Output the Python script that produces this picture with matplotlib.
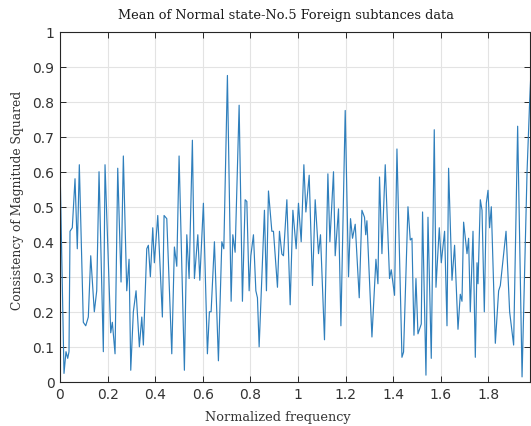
import matplotlib
matplotlib.use("Agg")
import matplotlib.pyplot as plt
from matplotlib.ticker import FuncFormatter, MultipleLocator

# normalized frequency and magnitude-squared coherence
freq = [
    0.0000, 0.0168, 0.0252, 0.0324, 0.0378, 0.0421, 0.0517, 0.0631, 0.0727, 0.0812,
    0.0980, 0.1081, 0.1190, 0.1291, 0.1442, 0.1543, 0.1640, 0.1821, 0.1892, 0.2132,
    0.2199, 0.2313, 0.2426, 0.2565, 0.2662, 0.2805, 0.2902, 0.2973, 0.3082, 0.3196,
    0.3335, 0.3436, 0.3503, 0.3646, 0.3713, 0.3797, 0.3898, 0.3965, 0.4108, 0.4302,
    0.4373, 0.4487, 0.4697, 0.4807, 0.4907, 0.5004, 0.5227, 0.5328, 0.5425, 0.5563,
    0.5648, 0.5791, 0.5875, 0.6026, 0.6194, 0.6278, 0.6350, 0.6489, 0.6657, 0.6800,
    0.6884, 0.7035, 0.7191, 0.7262, 0.7359, 0.7527, 0.7666, 0.7780, 0.7851, 0.7948,
    0.8019, 0.8129, 0.8230, 0.8297, 0.8368, 0.8591, 0.8675, 0.8760, 0.8902, 0.8970,
    0.9138, 0.9222, 0.9323, 0.9390, 0.9533, 0.9672, 0.9786, 0.9924, 1.0021, 1.0135,
    1.0248, 1.0332, 1.0471, 1.0610, 1.0723, 1.0862, 1.0946, 1.1114, 1.1257, 1.1341,
    1.1493, 1.1564, 1.1703, 1.1804, 1.1985, 1.2124, 1.2208, 1.2292, 1.2405, 1.2574,
    1.2687, 1.2796, 1.2847, 1.2897, 1.3108, 1.3276, 1.3360, 1.3427, 1.3528, 1.3667,
    1.3848, 1.3919, 1.4058, 1.4159, 1.4369, 1.4437, 1.4622, 1.4718, 1.4790, 1.4874,
    1.4958, 1.5042, 1.5181, 1.5235, 1.5378, 1.5463, 1.5601, 1.5727, 1.5799, 1.5938,
    1.6022, 1.6161, 1.6262, 1.6329, 1.6472, 1.6581, 1.6724, 1.6821, 1.6892, 1.6960,
    1.7103, 1.7170, 1.7241, 1.7355, 1.7452, 1.7523, 1.7565, 1.7662, 1.7734, 1.7830,
    1.7914, 1.7986, 1.8053, 1.8124, 1.8293, 1.8432, 1.8503, 1.8743, 1.8894, 1.9062,
    1.9231, 1.9416, 1.9554, 1.9626, 1.9735, 1.9800,
]
coh = [
    0.62, 0.024, 0.086, 0.067, 0.086, 0.43, 0.44, 0.58, 0.38, 0.62,
    0.17, 0.16, 0.185, 0.36, 0.20, 0.26, 0.60, 0.086, 0.62, 0.14,
    0.17, 0.08, 0.61, 0.285, 0.645, 0.26, 0.35, 0.033, 0.20, 0.26,
    0.10, 0.185, 0.105, 0.38, 0.39, 0.30, 0.44, 0.34, 0.475, 0.185,
    0.475, 0.466, 0.08, 0.385, 0.33, 0.645, 0.033, 0.42, 0.295, 0.69,
    0.295, 0.42, 0.29, 0.51, 0.08, 0.20, 0.20, 0.40, 0.06, 0.40,
    0.38, 0.875, 0.23, 0.42, 0.37, 0.79, 0.23, 0.52, 0.515, 0.26,
    0.36, 0.42, 0.26, 0.24, 0.10, 0.49, 0.26, 0.545, 0.43, 0.43,
    0.27, 0.43, 0.365, 0.36, 0.52, 0.22, 0.49, 0.38, 0.51, 0.40,
    0.62, 0.485, 0.59, 0.275, 0.52, 0.366, 0.42, 0.12, 0.594, 0.40,
    0.60, 0.36, 0.494, 0.16, 0.775, 0.30, 0.466, 0.41, 0.45, 0.24,
    0.49, 0.47, 0.42, 0.46, 0.128, 0.35, 0.28, 0.585, 0.366, 0.62,
    0.295, 0.32, 0.247, 0.665, 0.07, 0.085, 0.50, 0.405, 0.41, 0.133,
    0.295, 0.137, 0.165, 0.485, 0.019, 0.47, 0.067, 0.72, 0.27, 0.44,
    0.34, 0.43, 0.16, 0.61, 0.29, 0.39, 0.15, 0.25, 0.23, 0.456,
    0.366, 0.41, 0.20, 0.43, 0.07, 0.34, 0.28, 0.52, 0.49, 0.20,
    0.51, 0.547, 0.44, 0.50, 0.11, 0.26, 0.275, 0.43, 0.20, 0.105,
    0.73, 0.014, 0.40, 0.60, 0.80, 0.90,
]

title = "Mean of Normal state-No.5 Foreign subtances data"
xlabel = "Normalized frequency"
ylabel = "Consistency of Magnitude Squared"

serif = ["DejaVu Serif"]

fig = plt.figure(figsize=(5.31, 4.27), dpi=100)
ax = fig.add_axes([60 / 531, 1 - 382.8 / 427, 470 / 531, (382.8 - 32.7) / 427])

ax.plot(freq, coh, color="#2f7fbc", lw=0.85)

ax.set_xlim(0, 1.975)
ax.set_ylim(0, 1)
ax.xaxis.set_major_locator(MultipleLocator(0.2))
ax.yaxis.set_major_locator(MultipleLocator(0.1))
fmt = FuncFormatter(lambda v, _: f"{v:.1f}".rstrip("0").rstrip("."))
ax.xaxis.set_major_formatter(fmt)
ax.yaxis.set_major_formatter(fmt)

ax.grid(True, color="#e3e3e3", lw=0.8)
ax.set_axisbelow(True)
ax.tick_params(direction="in", length=4, width=0.7, color="#262626",
               top=True, right=True, labelsize=10, labelcolor="#333333", pad=4)
for s in ax.spines.values():
    s.set_color("#262626")
    s.set_linewidth(0.8)

# title and axis labels sit a little left of the axes centre in the original
fig.text(286 / 531, 1 - 16 / 427, title, family=serif, fontsize=9.3,
         color="#1a1a1a", ha="center", va="center")
fig.text(278 / 531, 1 - 418 / 427, xlabel, family=serif, fontsize=9.3,
         color="#333333", ha="center", va="center")
fig.text(18 / 531, 1 - 200 / 427, ylabel, family=serif, fontsize=8.8,
         color="#333333", ha="center", va="center", rotation=90)

fig.savefig("out.png", dpi=100)
